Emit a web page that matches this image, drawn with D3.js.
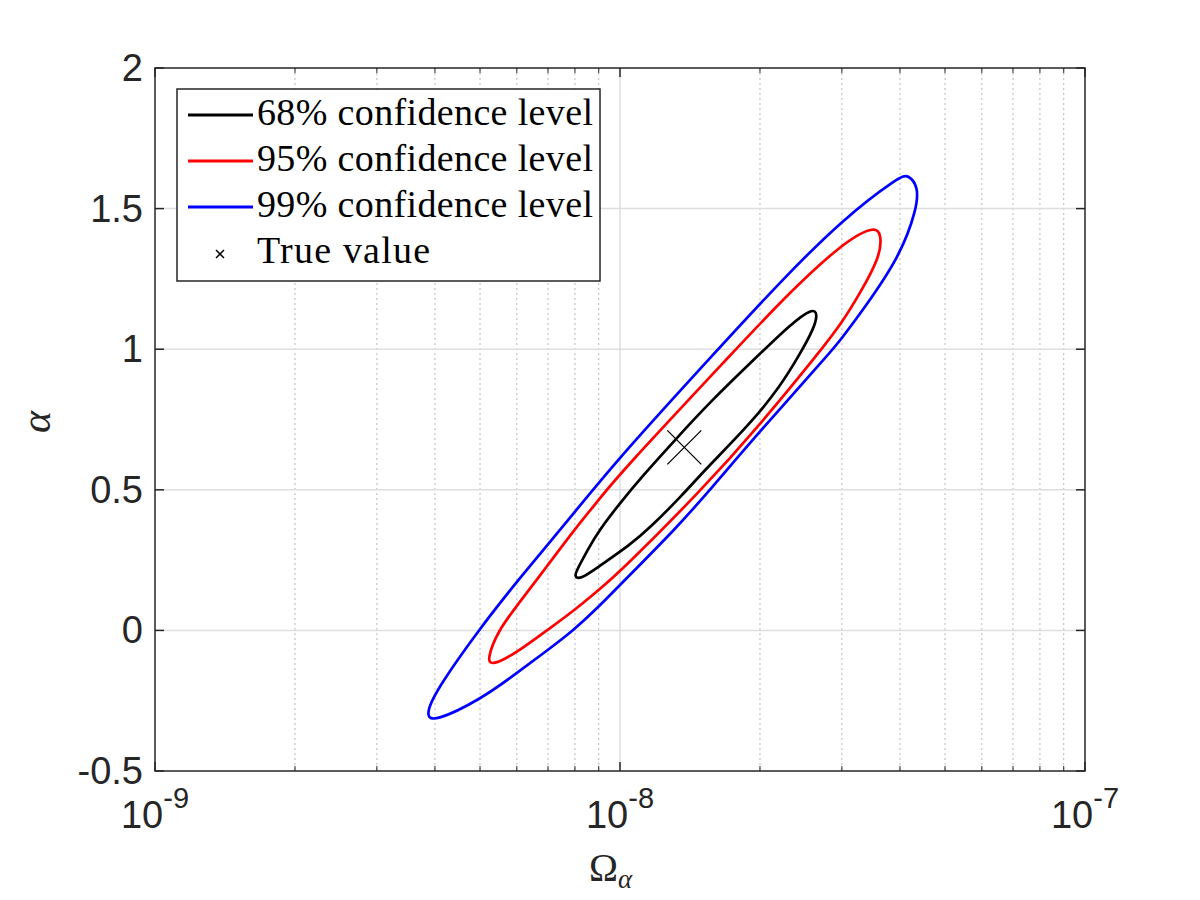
<!DOCTYPE html>
<html>
<head>
<meta charset="utf-8">
<script src="https://cdn.jsdelivr.net/npm/d3@7"></script>
<style>
  body { margin: 0; background: #fff; }
  svg { display: block; }
</style>
</head>
<body>
<svg id="chart" width="1200" height="900"></svg>
<script>
// contour points: [Omega_alpha, alpha]
const contour68 = [
  [7.96e-9, 0.191], [8.20e-9, 0.180], [9.0e-9, 0.227], [1.051e-8, 0.304],
  [1.160e-8, 0.365], [1.357e-8, 0.478], [1.523e-8, 0.571], [1.904e-8, 0.734],
  [2.209e-8, 0.866], [2.438e-8, 0.983], [2.604e-8, 1.069], [2.665e-8, 1.126],
  [2.594e-8, 1.147], [2.32e-8, 1.086], [2.03e-8, 0.994], [1.562e-8, 0.813],
  [1.313e-8, 0.677], [1.113e-8, 0.546], [1.0e-8, 0.453], [9.0e-9, 0.354],
  [8.54e-9, 0.290], [8.12e-9, 0.222]
];
const contour95 = [
  [5.17e-9, -0.105], [5.30e-9, -0.126], [6.0e-9, -0.079], [6.96e-9, 0.0],
  [8.0e-9, 0.073], [9.0e-9, 0.144], [1.0e-8, 0.208], [1.50e-8, 0.5],
  [2.0e-8, 0.731], [2.716e-8, 1.0], [3.0e-8, 1.094], [3.282e-8, 1.199],
  [3.624e-8, 1.329], [3.65e-8, 1.406], [3.535e-8, 1.440], [3.0e-8, 1.377],
  [2.23e-8, 1.175], [1.776e-8, 1.0], [1.0e-8, 0.559], [9.0e-9, 0.464],
  [8.0e-9, 0.361], [7.0e-9, 0.233], [6.0e-9, 0.087], [5.47e-9, 0.0]
];
const contour99 = [
  [3.81e-9, -0.307], [4.0e-9, -0.324], [5.0e-9, -0.247], [6.0e-9, -0.152],
  [7.0e-9, -0.069], [7.94e-9, 0.0], [9.0e-9, 0.084], [1.0e-8, 0.162],
  [1.324e-8, 0.365], [1.562e-8, 0.5], [2.0e-8, 0.709], [2.875e-8, 1.0],
  [3.0e-8, 1.040], [3.31e-8, 1.133], [4.0e-8, 1.329], [4.35e-8, 1.5],
  [4.38e-8, 1.578], [4.17e-8, 1.620], [4.0e-8, 1.616], [3.0e-8, 1.460],
  [2.209e-8, 1.239], [1.625e-8, 1.0], [1.0e-8, 0.618], [8.0e-9, 0.421],
  [6.0e-9, 0.174], [5.0e-9, 0.008], [4.0e-9, -0.218]
];
const trueValue = [1.375e-8, 0.651];

const seriesNames = ['68% confidence level', '95% confidence level', '99% confidence level'];
const seriesColors = ['#000000', '#ff0000', '#0000ff'];
const xMajorTicks = [1e-9, 1e-8, 1e-7];
const xTickExponents = ['-9', '-8', '-7'];
const yTicks = [-0.5, 0, 0.5, 1, 1.5, 2];
const yTickLabels = ['-0.5', '0', '0.5', '1', '1.5', '2'];

const margin = {left: 155, right: 1085, top: 68, bottom: 771};
const axisColor = '#262626';

const svg = d3.select('#chart');

const x = d3.scaleLog().domain([1e-9, 1e-7]).range([margin.left, margin.right]);
const y = d3.scaleLinear().domain([-0.5, 2]).range([margin.bottom, margin.top]);

// minor ticks of the log axis (2..9 in every decade)
const xMinor = x.ticks().filter(v => !xMajorTicks.some(m => Math.abs(m - v) / m < 1e-6));

// grid
const grid = svg.append('g');
grid.selectAll('line.minor')
  .data(xMinor)
  .enter().append('line')
  .attr('x1', d => x(d)).attr('x2', d => x(d))
  .attr('y1', margin.top).attr('y2', margin.bottom)
  .attr('stroke', '#b8b8b8')
  .attr('stroke-width', 1)
  .attr('stroke-dasharray', '2,3');
grid.selectAll('line.xmajor')
  .data(xMajorTicks.slice(1, -1))
  .enter().append('line')
  .attr('x1', d => x(d)).attr('x2', d => x(d))
  .attr('y1', margin.top).attr('y2', margin.bottom)
  .attr('stroke', '#dedede')
  .attr('stroke-width', 1.5);
grid.selectAll('line.ymajor')
  .data(yTicks.slice(1, -1))
  .enter().append('line')
  .attr('x1', margin.left).attr('x2', margin.right)
  .attr('y1', d => y(d)).attr('y2', d => y(d))
  .attr('stroke', '#dedede')
  .attr('stroke-width', 1.5);

// contours (B-spline through the read points smooths reading noise)
const line = d3.line()
  .x(d => x(d[0]))
  .y(d => y(d[1]))
  .curve(d3.curveBasisClosed);

const contours = [contour68, contour95, contour99];
svg.append('g')
  .selectAll('path')
  .data(contours)
  .enter().append('path')
  .attr('d', d => line(d))
  .attr('fill', 'none')
  .attr('stroke', (d, i) => seriesColors[i])
  .attr('stroke-width', 2.7)
  .attr('stroke-linejoin', 'round');

// true value marker
const cross = (cx, cy, r) => `M${cx - r},${cy - r}L${cx + r},${cy + r}M${cx - r},${cy + r}L${cx + r},${cy - r}`;
svg.append('path')
  .attr('d', cross(x(trueValue[0]), y(trueValue[1]), 17))
  .attr('stroke', '#000')
  .attr('stroke-width', 1.3)
  .attr('fill', 'none');

// axes box and ticks
const axes = svg.append('g').attr('stroke', axisColor).attr('stroke-width', 1.5);
axes.append('rect')
  .attr('x', margin.left).attr('y', margin.top)
  .attr('width', margin.right - margin.left)
  .attr('height', margin.bottom - margin.top)
  .attr('fill', 'none');

const tickLen = 9, minorLen = 5;
yTicks.forEach(v => {
  axes.append('line').attr('x1', margin.left).attr('x2', margin.left + tickLen).attr('y1', y(v)).attr('y2', y(v));
  axes.append('line').attr('x1', margin.right).attr('x2', margin.right - tickLen).attr('y1', y(v)).attr('y2', y(v));
});
xMajorTicks.forEach(v => {
  axes.append('line').attr('x1', x(v)).attr('x2', x(v)).attr('y1', margin.bottom).attr('y2', margin.bottom - tickLen);
  axes.append('line').attr('x1', x(v)).attr('x2', x(v)).attr('y1', margin.top).attr('y2', margin.top + tickLen);
});
xMinor.forEach(v => {
  axes.append('line').attr('x1', x(v)).attr('x2', x(v)).attr('y1', margin.bottom).attr('y2', margin.bottom - minorLen).attr('stroke-width', 1);
  axes.append('line').attr('x1', x(v)).attr('x2', x(v)).attr('y1', margin.top).attr('y2', margin.top + minorLen).attr('stroke-width', 1);
});

// tick labels
const tickFont = 'Liberation Sans, Arial, Helvetica, sans-serif';
svg.append('g')
  .selectAll('text')
  .data(yTicks)
  .enter().append('text')
  .attr('x', margin.left - 12)
  .attr('y', d => y(d) + 13)
  .attr('text-anchor', 'end')
  .attr('font-family', tickFont)
  .attr('font-size', 38)
  .attr('fill', axisColor)
  .text((d, i) => yTickLabels[i]);

const xl = svg.append('g')
  .selectAll('text')
  .data(xMajorTicks)
  .enter().append('text')
  .attr('x', d => x(d))
  .attr('y', 828)
  .attr('text-anchor', 'middle')
  .attr('font-family', tickFont)
  .attr('font-size', 38)
  .attr('fill', axisColor);
xl.append('tspan').text('10');
xl.append('tspan')
  .attr('dy', -20)
  .attr('font-size', 29)
  .text((d, i) => xTickExponents[i]);

// axis labels
const xlab = svg.append('text')
  .attr('x', 589)
  .attr('y', 881)
  .attr('font-family', 'Liberation Serif, serif')
  .attr('font-size', 39)
  .attr('fill', axisColor);
xlab.append('tspan').text('Ω');
xlab.append('tspan').attr('dy', 7).attr('font-size', 27).attr('font-style', 'italic').text('α');

svg.append('text')
  .attr('transform', 'translate(50,422) rotate(-90)')
  .attr('text-anchor', 'middle')
  .attr('font-family', 'Liberation Serif, serif')
  .attr('font-style', 'italic')
  .attr('font-size', 42)
  .attr('fill', axisColor)
  .text('α');

// legend
const legend = svg.append('g');
legend.append('rect')
  .attr('x', 177).attr('y', 89)
  .attr('width', 423).attr('height', 192)
  .attr('fill', '#fff')
  .attr('stroke', axisColor)
  .attr('stroke-width', 1.5);

const rowY = [115, 161, 207, 253];
const textWidth = [336, 336, 336, 173];
const legendItems = seriesNames.concat(['True value']);
legendItems.forEach((name, i) => {
  if (i < 3) {
    legend.append('line')
      .attr('x1', 188).attr('x2', 253)
      .attr('y1', rowY[i]).attr('y2', rowY[i])
      .attr('stroke', seriesColors[i])
      .attr('stroke-width', 3);
  } else {
    legend.append('path')
      .attr('d', cross(220, rowY[i] + 1, 4))
      .attr('stroke', '#000')
      .attr('stroke-width', 1.5);
  }
  legend.append('text')
    .attr('x', 257)
    .attr('y', rowY[i] + 10)
    .attr('font-family', 'Liberation Serif, serif')
    .attr('font-size', 38)
    .attr('textLength', textWidth[i])
    .attr('lengthAdjust', 'spacing')
    .attr('fill', '#000')
    .text(name);
});
</script>
</body>
</html>
